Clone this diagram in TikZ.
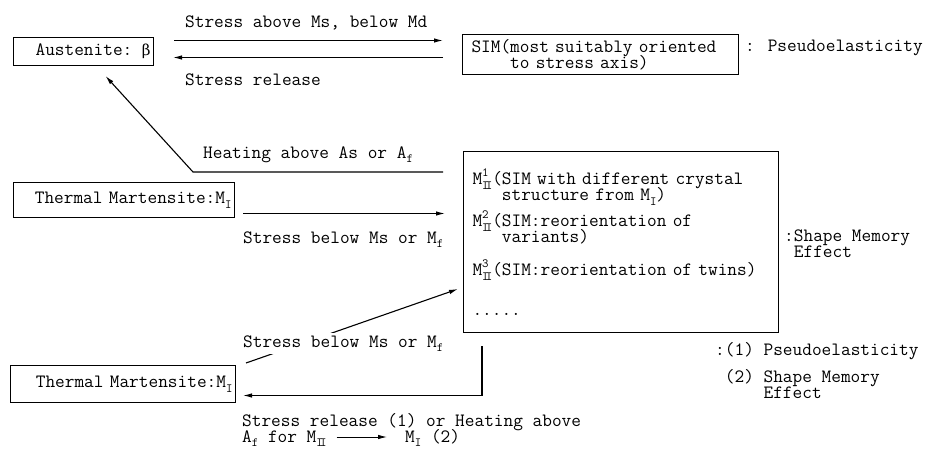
\documentclass[tikz,border=0pt]{standalone}
\usepackage{fontspec}
\usepackage{tikz}
\usetikzlibrary{arrows.meta,positioning,calc}
\newfontfamily\greekf{DejaVu Serif}[Scale=0.8]
\newcommand\twfont{\ttfamily\fontsize{18.8}{16}\selectfont\lineskiplimit-100pt\relax}
\def\lo#1{\raisebox{-0.26em}{\fontsize{12.5}{12}\selectfont #1}}
\def\hi#1{\raisebox{0.4em}{\fontsize{12.5}{12}\selectfont #1}}
\def\MII#1{M\rlap{\hi{#1}}\lo{I\kern-2.8pt I}}

\begin{document}
\begin{tikzpicture}[x=1pt, y=-1pt,
   >={Latex[length=9pt,width=4.5pt]},
   box/.style={draw, line width=1pt, inner sep=3pt, anchor=north west, font=\twfont},
   lbl/.style={inner sep=2pt, font=\twfont},
   flow/.style={->, line width=1.1pt},
]
\useasboundingbox (0,0) rectangle (935,452);
% top row
\node[box, minimum width=140pt, minimum height=28pt, text width=134pt, align=right] (aus)
  at (13,37) {Austenite: {\greekf β}};
\node[box, minimum width=276pt, minimum height=40pt, inner xsep=9pt, text width=258pt, align=left] (sim)
  at (462,34) {SIM(most suitably oriented\\\phantom{SIM(}to stress axis)};
\node[lbl, anchor=base west] (pe) at (743,52) {: Pseudoelasticity};
\node[lbl, anchor=base west] (sa) at (183,28) {Stress above Ms, below Md};
\node[lbl, anchor=base west] (sr) at (183,85) {Stress release};
% middle row
\node[box, minimum width=221pt, minimum height=35pt, text width=215pt, align=right] (tm1)
  at (13,182) {Thermal Martensite:M\lo{I}};
\node[box, minimum width=315pt, minimum height=181pt, inner xsep=9pt, text width=297pt, align=left] (big)
  at (463,151) {\MII{1}(SIM with different crystal\\
   \phantom{\MII{1}(}structure from M\lo{I})\\[10pt]
   \MII{2}(SIM:reorientation of\\
   \phantom{\MII{2}(}variants)\\[17pt]
   \MII{3}(SIM:reorientation of twins)\\[24pt]
   .....};
\node[lbl, anchor=west, align=left] (sme) at ($(big.east)+(3,2)$) {:Shape Memory\\\phantom{:}Effect};
\node[lbl, anchor=base west] (heat) at (201,158) {Heating above As or A\lo{f}};
\node[lbl, anchor=base west] (sb1) at (241,243) {Stress below Ms or M\lo{f}};
% bottom row
\node[box, minimum width=225pt, minimum height=37pt, text width=219pt, align=right] (tm2)
  at (10,365) {Thermal Martensite:M\lo{I}};
\node[lbl, anchor=base west] (rel1) at (240,426) {Stress release (1) or Heating above};
\node[lbl, anchor=base west] (rel2) at (240,442) {A\lo{f} for M\lo{I\kern-2.8pt I}};
\node[lbl, anchor=base west] (rel3) at (403,442) {M\lo{I} (2)};
\node[lbl, anchor=base west, align=left] (leg) at (713,398)
  {:(1) Pseudoelasticity\\[11pt]\phantom{:}(2) Shape Memory\\\phantom{:(2) }Effect};
% edges
\coordinate (hbend) at (193,172);
\coordinate (rs) at ($(big.south west)+(19,13)$);
\draw[flow, shorten <=20pt, shorten >=19pt] ([yshift=11pt]aus.east) -- ([yshift=11pt]aus.east -| sim.west);
\draw[flow, shorten <=19pt, shorten >=19pt] ([yshift=-6pt]aus.east -| sim.west) -- ([yshift=-6pt]aus.east);
\draw[flow] ($(big.north west)+(-20,21)$) -- (hbend) -- ($(aus.south)+(22,10)$);
\draw[flow, shorten <=8pt, shorten >=18pt] ([yshift=-13.5pt]tm1.east) -- ([yshift=-13.5pt]tm1.east -| big.west);
\draw[flow] ($(tm2.north east)+(10,-2)$) -- ($(big.south west)+(-5,-44)$);
\node[lbl, fill=white, anchor=base west] (sb2) at (241,347) {Stress below Ms or M\lo{f}};
\draw[flow, shorten >=7pt] (rs) |- ([yshift=-11.5pt]tm2.east);
\draw[->, line width=0.9pt, shorten <=8pt, shorten >=16pt] ([yshift=5pt]rel2.base east) -- ([yshift=5pt]rel3.base west);
\end{tikzpicture}
\end{document}
